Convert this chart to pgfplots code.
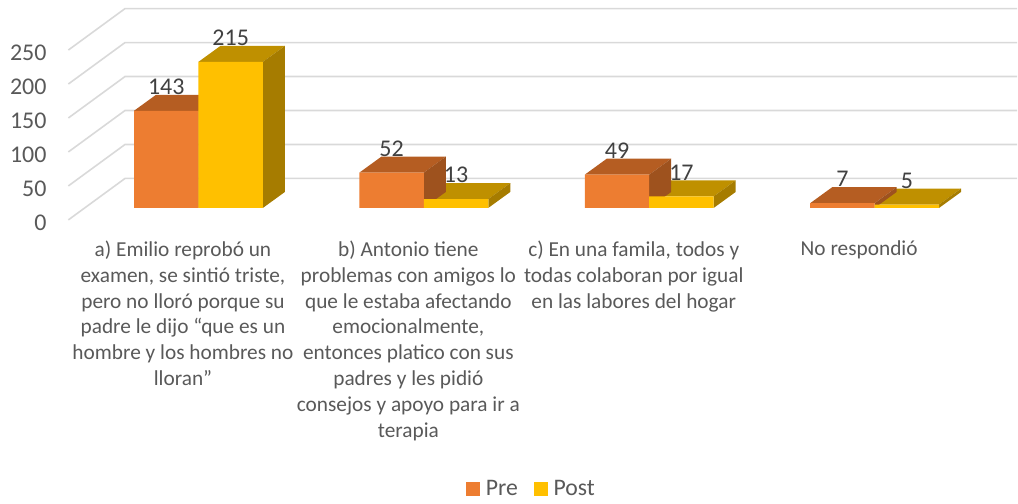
\documentclass[border=0pt]{standalone}
\usepackage{pgfplots}
\pgfplotsset{compat=1.18}
\usepackage{fontspec}
\setmainfont{Carlito}
\definecolor{preF}{HTML}{ED7D31}
\definecolor{preT}{HTML}{B55D22}
\definecolor{preS}{HTML}{9E521E}
\definecolor{postF}{HTML}{FFC000}
\definecolor{postT}{HTML}{BF9000}
\definecolor{postS}{HTML}{A67C00}
\definecolor{gridc}{HTML}{D9D9D9}
\definecolor{txt}{HTML}{595959}
\definecolor{lab}{HTML}{404040}
\pgfplotstableread{
x v
166.25 143
391.85 52
617.45 49
843.05 7
}\pre
\pgfplotstableread{
x v
230.75 215
456.35 13
681.95 17
907.55 5
}\post
\begin{document}
\begin{tikzpicture}
\begin{axis}[
  scale only axis, width=763.5pt, height=373.5pt,
  xmin=0, xmax=1018, ymin=-426.47, ymax=305.88,
  clip=false,
  axis line style={draw=none},
  major tick length=0pt,
  /pgf/number format/assume math mode=true,
  ytick={0,50,100,150,200,250},
  yticklabel style={anchor=east, inner xsep=0pt, xshift=35pt, yshift=-11.3pt, font=\fontsize{18}{21}\selectfont, text=txt},
  xtick={183,408.6,634.2,859.8},
  xticklabels={
    {a) Emilio reprobó un\\examen, se sintió triste,\\pero no lloró porque su\\padre le dijo “que es un\\hombre y los hombres no\\lloran”},
    {b) Antonio tiene\\problemas con amigos lo\\que le estaba afectando\\emocionalmente,\\entonces platico con sus\\padres y les pidió\\consejos y apoyo para ir a\\terapia},
    {c) En una famila, todos y\\todas colaboran por igual\\en las labores del hogar},
    {No respondió}},
  xticklabel style={anchor=north, align=center, yshift=193pt, inner sep=0pt, font=\fontsize{16}{19.4}\selectfont, text=txt},
  legend style={at={(axis cs:532,-414)}, anchor=center, draw=none, fill=none, legend columns=2, font=\fontsize{17.8}{20}\selectfont, text=txt, /tikz/every even column/.style={column sep=9.75pt}, /tikz/every odd column/.style={column sep=2.5pt}},
  legend image code/.code={\fill[#1] (0pt,-5.25pt) rectangle (10.5pt,5.25pt);},
]
% gridlines
\addplot[gridc, line width=1.2pt, forget plot] coordinates {(68.3,-17.6)(125,43.4)(1018,43.4)};
\addplot[gridc, line width=1.2pt, forget plot] coordinates {(68.3,32.4)(125,93.4)(1018,93.4)};
\addplot[gridc, line width=1.2pt, forget plot] coordinates {(68.3,82.4)(125,143.4)(1018,143.4)};
\addplot[gridc, line width=1.2pt, forget plot] coordinates {(68.3,132.4)(125,193.4)(1018,193.4)};
\addplot[gridc, line width=1.2pt, forget plot] coordinates {(68.3,182.4)(125,243.4)(1018,243.4)};
\addplot[gridc, line width=1.2pt, forget plot] coordinates {(68.3,232.4)(125,293.4)(1018,293.4)};
% Post tops and sides
\addplot[fill=postT, draw=none, forget plot] coordinates {(198.5,215)(263,215)(285,238.5)(220.5,238.5)};
\addplot[fill=postS, draw=none, forget plot] coordinates {(263,0)(285,23.5)(285,238.5)(263,215)};
\addplot[fill=postT, draw=none, forget plot] coordinates {(424.1,13)(488.6,13)(510.6,36.5)(446.1,36.5)};
\addplot[fill=postS, draw=none, forget plot] coordinates {(488.6,0)(510.6,23.5)(510.6,36.5)(488.6,13)};
\addplot[fill=postT, draw=none, forget plot] coordinates {(649.7,17)(714.2,17)(736.2,40.5)(671.7,40.5)};
\addplot[fill=postS, draw=none, forget plot] coordinates {(714.2,0)(736.2,23.5)(736.2,40.5)(714.2,17)};
\addplot[fill=postT, draw=none, forget plot] coordinates {(875.3,5)(939.8,5)(961.8,28.5)(897.3,28.5)};
\addplot[fill=postS, draw=none, forget plot] coordinates {(939.8,0)(961.8,23.5)(961.8,28.5)(939.8,5)};
% Pre tops and sides
\addplot[fill=preT, draw=none, forget plot] coordinates {(134,143)(198.5,143)(220.5,166.5)(156,166.5)};
\addplot[fill=preS, draw=none, forget plot] coordinates {(198.5,0)(220.5,23.5)(220.5,166.5)(198.5,143)};
\addplot[fill=preT, draw=none, forget plot] coordinates {(359.6,52)(424.1,52)(446.1,75.5)(381.6,75.5)};
\addplot[fill=preS, draw=none, forget plot] coordinates {(424.1,0)(446.1,23.5)(446.1,75.5)(424.1,52)};
\addplot[fill=preT, draw=none, forget plot] coordinates {(585.2,49)(649.7,49)(671.7,72.5)(607.2,72.5)};
\addplot[fill=preS, draw=none, forget plot] coordinates {(649.7,0)(671.7,23.5)(671.7,72.5)(649.7,49)};
\addplot[fill=preT, draw=none, forget plot] coordinates {(810.8,7)(875.3,7)(897.3,30.5)(832.8,30.5)};
\addplot[fill=preS, draw=none, forget plot] coordinates {(875.3,0)(897.3,23.5)(897.3,30.5)(875.3,7)};
% fronts
\addplot[ybar, bar width=64.5, bar shift=0pt, fill=preF, draw=none,
  nodes near coords, nodes near coords style={anchor=center, yshift=18pt, font=\fontsize{18}{20}\selectfont, text=lab, /pgf/number format/assume math mode=true}]
  table[x=x,y=v] {\pre};
\addlegendentry{Pre}
\addplot[ybar, bar width=64.5, bar shift=0pt, fill=postF, draw=none,
  nodes near coords, nodes near coords style={anchor=center, yshift=18pt, font=\fontsize{18}{20}\selectfont, text=lab, /pgf/number format/assume math mode=true}]
  table[x=x,y=v] {\post};
\addlegendentry{Post}
\end{axis}
\end{tikzpicture}
\end{document}
